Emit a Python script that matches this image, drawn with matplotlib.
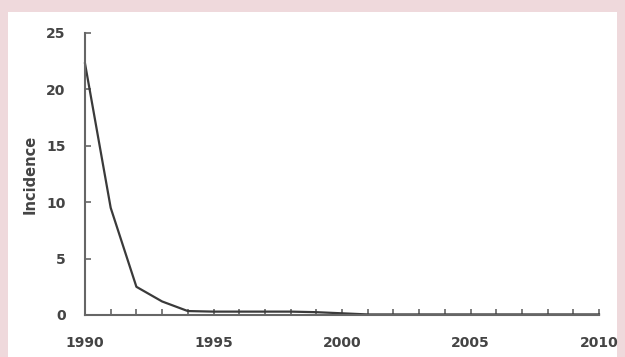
import matplotlib
matplotlib.use("Agg")
import matplotlib.pyplot as plt
from matplotlib.patches import Rectangle

# incidence per year
years = list(range(1990, 2011))
incidence = [22.3, 9.5, 2.5, 1.2, 0.35, 0.3, 0.3, 0.3, 0.3, 0.25, 0.15,
             0.05, 0.05, 0.05, 0.05, 0.05, 0.05, 0.05, 0.05, 0.05, 0.05]
year_labels = ["1990", "1995", "2000", "2005", "2010"]
y_ticks = [0, 5, 10, 15, 20, 25]

pink = "#efd9dc"
ink = "#444444"

fig = plt.figure(figsize=(6.25, 3.57), dpi=100, facecolor=pink)
# white panel inside the pink frame
fig.patches.append(Rectangle((8 / 625, 0), 609 / 625, 1 - 12 / 357,
                             transform=fig.transFigure, facecolor="white",
                             edgecolor="none", zorder=-5))

ax = fig.add_axes([85 / 625, 1 - 315 / 357, 514 / 625, 282 / 357])
ax.set_facecolor("none")
ax.plot(years, incidence, color="#3a3a3a", lw=1.6, clip_on=False)

ax.set_xlim(1990, 2010)
ax.set_ylim(0, 25)
ax.set_xticks(years)
ax.set_xticklabels([str(y) if str(y) in year_labels else "" for y in years])
ax.set_yticks(y_ticks)

for s in ["top", "right"]:
    ax.spines[s].set_visible(False)
for s in ["left", "bottom"]:
    ax.spines[s].set_color("#666666")
    ax.spines[s].set_linewidth(1.5)

ax.tick_params(axis="both", direction="in", length=4, width=1.2,
               color="#666666", labelcolor=ink)
ax.tick_params(axis="x", pad=15)
ax.tick_params(axis="y", pad=14)
for lab in ax.get_xticklabels() + ax.get_yticklabels():
    lab.set_fontsize(10)
    lab.set_fontweight("bold")
    lab.set_family("DejaVu Sans")

ax.set_ylabel("Incidence", fontsize=10.5, fontweight="bold", color=ink,
              labelpad=6)

fig.savefig("out.png", dpi=100, facecolor=pink)
